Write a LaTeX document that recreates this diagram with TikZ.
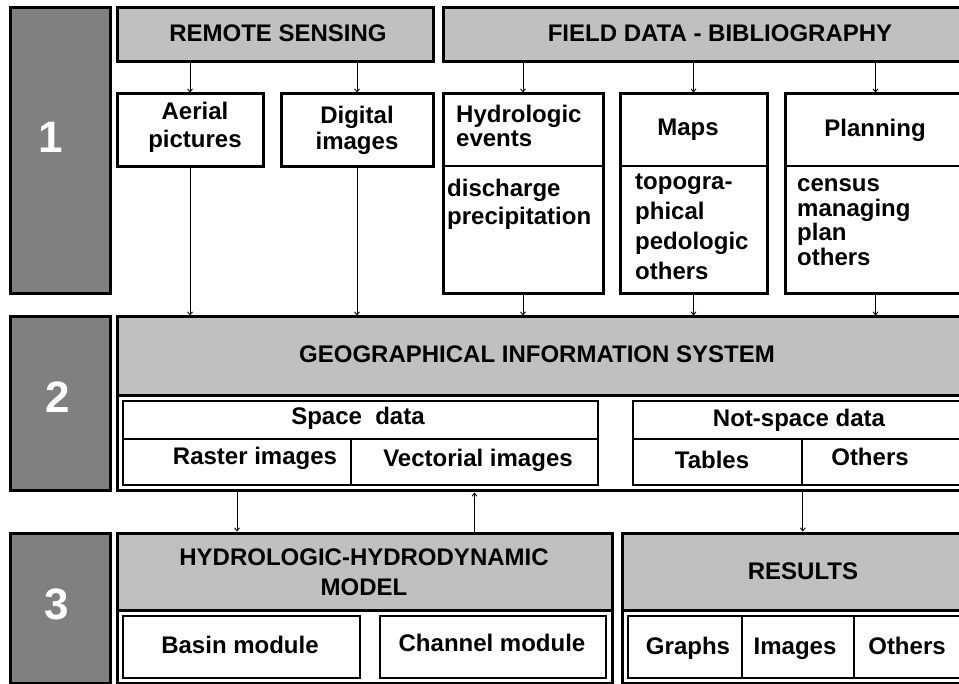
\documentclass[tikz,border=0pt]{standalone}
\usepackage{fontspec}
\setmainfont{Liberation Sans}
\usetikzlibrary{arrows.meta, fit}

\definecolor{NumGray}{RGB}{128,128,128}
\definecolor{HeadGray}{RGB}{192,192,192}

\begin{document}
\begin{tikzpicture}[x=1pt, y=-1pt,
    every node/.style={font=\fontsize{24}{28}\selectfont\bfseries, inner sep=0pt},
    numbox/.style={draw, line width=3pt, fill=NumGray},
    headbox/.style={draw, line width=3pt, fill=HeadGray},
    framebox/.style={draw, line width=3pt, fill=white},
    cellbox/.style={draw, line width=1.5pt},
    lbl/.style={text height=17pt, text depth=5pt},
    numtxt/.style={white, font=\fontsize{44}{44}\selectfont\bfseries},
    arr/.style={-{Straight Barb[length=3pt, width=5pt]}, line width=0.9pt}
]
\useasboundingbox (0,0) rectangle (959,684);
\clip (0,0) rectangle (959,684);

% level numbers
\node[numbox, fit={(10,8) (110,294)}] (n1) {};
\node[numbox, fit={(10,317) (110,491)}] (n2) {};
\node[numbox, fit={(10,533) (110,683)}] (n3) {};
\node[numtxt] (n1lbl) at (51,137) {1};
\node[numtxt] (n2lbl) at (58,397) {2};
\node[numtxt] (n3lbl) at (57,604) {3};

% level 1: sources
\node[headbox, fit={(117,8) (433,62)}] (rs) {};
\node[headbox, fit={(443,8) (966,62)}] (fd) {};
\node[lbl] (rslbl) at (278,36) {REMOTE SENSING};
\node[lbl] (fdlbl) at (720,36) {FIELD DATA - BIBLIOGRAPHY};

\node[framebox, fit={(117,94) (263,167)}] (aerial) {};
\node[framebox, fit={(281,94) (433,167)}] (digital) {};
\node[framebox, fit={(443,94) (603,294)}] (hydro) {};
\node[framebox, fit={(620,94) (767,294)}] (maps) {};
\node[framebox, fit={(785,94) (966,294)}] (plan) {};
\draw[line width=1.5pt] (443,166) -- (603,166);
\draw[line width=1.5pt] (620,166) -- (767,166);
\draw[line width=1.5pt] (785,166) -- (966,166);

\node[align=center] (aerlbl) at (195,127) {Aerial\\pictures};
\node[align=center, font=\fontsize{24}{26}\selectfont\bfseries] (diglbl) at (357,130) {Digital\\images};
\node[align=left, anchor=west, font=\fontsize{24}{24}\selectfont\bfseries] (hydlbl) at (456,126) {Hydrologic\\events};
\node[align=left, anchor=west] (dislbl) at (447,204) {discharge\\precipitation};
\node[lbl] (maplbl) at (688,130) {Maps};
\node[align=left, anchor=west, font=\fontsize{24}{30}\selectfont\bfseries] (topolbl) at (635,227) {topogra-\\phical\\pedologic\\others};
\node[lbl] (planlbl) at (875,131) {Planning};
\node[align=left, anchor=west, font=\fontsize{24}{24.5}\selectfont\bfseries] (censlbl) at (797,222) {census\\managing\\plan\\others};

\draw[arr] (rs.south -| aerial) -- (aerial.north);
\draw[arr] (rs.south -| digital) -- (digital.north);
\draw[arr] (fd.south -| hydro) -- (hydro.north);
\draw[arr] (fd.south -| maps) -- (maps.north);
\draw[arr] (fd.south -| plan) -- (plan.north);

% level 2: GIS
\node[headbox, fit={(117,317) (966,396)}] (gishead) {};
\node[framebox, fit={(117,396) (966,491)}] (gisbody) {};
\node[lbl] (gislbl) at (537,357) {GEOGRAPHICAL INFORMATION SYSTEM};

\node[cellbox, fit={(123,401) (598,439)}] (space) {};
\node[cellbox, fit={(123,439) (351,485)}] (raster) {};
\node[cellbox, fit={(351,439) (598,485)}] (vect) {};
\node[cellbox, fit={(633,401) (966,439)}] (nospace) {};
\node[cellbox, fit={(633,439) (802,485)}] (tables) {};
\node[cellbox, fit={(802,439) (966,485)}] (others) {};
\node[lbl] (spclbl) at (358,419) {Space\ \ data};
\node[lbl] (raslbl) at (255,459) {Raster images};
\node[lbl] (veclbl) at (478,461) {Vectorial images};
\node[lbl] (nsplbl) at (799,421) {Not-space data};
\node[lbl] (tablbl) at (712,462) {Tables};
\node[lbl] (othlbl) at (870,460) {Others};

\draw[arr] (aerial.south) -- (gishead.north -| aerial);
\draw[arr] (digital.south) -- (gishead.north -| digital);
\draw[arr] (hydro.south) -- (gishead.north -| hydro);
\draw[arr] (maps.south) -- (gishead.north -| maps);
\draw[arr] (plan.south) -- (gishead.north -| plan);

% level 3: model and results
\node[headbox, fit={(117,533) (612,610)}] (hhmhead) {};
\node[framebox, fit={(117,610) (612,683)}] (hhmbody) {};
\node[headbox, fit={(622,533) (966,610)}] (reshead) {};
\node[framebox, fit={(622,610) (966,683)}] (resbody) {};
\node[align=center, font=\fontsize{24}{30}\selectfont\bfseries] (hhmlbl) at (364,572) {HYDROLOGIC-HYDRODYNAMIC\\MODEL};
\node[lbl] (reslbl) at (803,573) {RESULTS};

\node[cellbox, fit={(123,616) (360,678)}] (basin) {};
\node[cellbox, fit={(380,616) (606,678)}] (channel) {};
\node[cellbox, fit={(628,616) (742,678)}] (graphs) {};
\node[cellbox, fit={(742,616) (854,678)}] (images) {};
\node[cellbox, fit={(854,616) (962,678)}] (others2) {};
\node[lbl] (baslbl) at (240,647) {Basin module};
\node[lbl] (chalbl) at (492,645) {Channel module};
\node[lbl] (grplbl) at (688,648) {Graphs};
\node[lbl] (imglbl) at (795,648) {Images};
\node[lbl] (oth2lbl) at (907,648) {Others};

\draw[arr] (gisbody.south -| raster) -- (hhmhead.north -| raster);
\draw[arr] (hhmhead.north -| vect) -- (gisbody.south -| vect);
\draw[arr] (gisbody.south -| tables.east) -- (reshead.north -| tables.east);
\end{tikzpicture}
\end{document}
